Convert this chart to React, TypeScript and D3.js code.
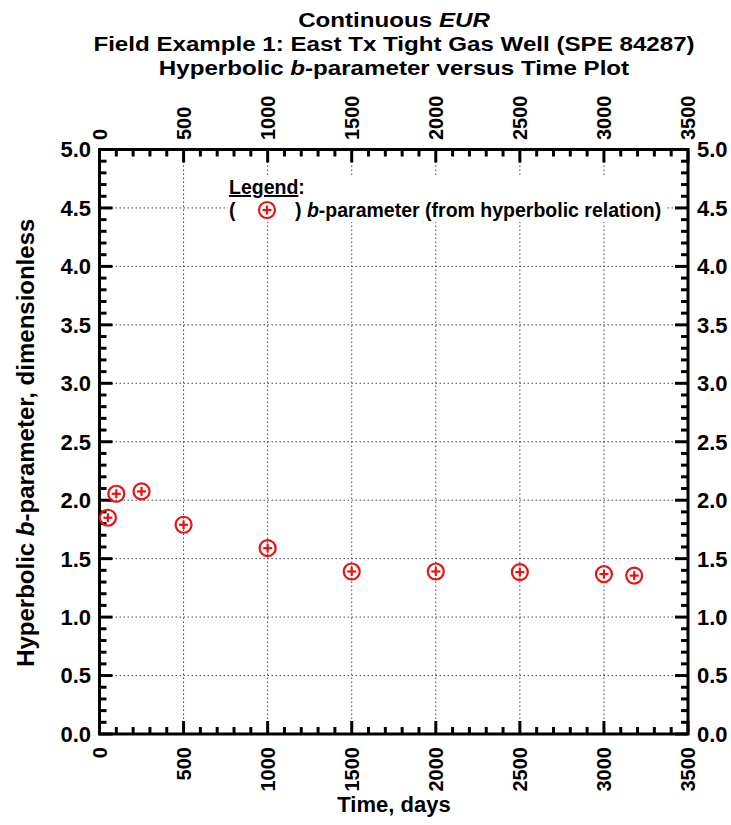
import React from "react";
import * as d3 from "d3";

const timeDays = [50, 100, 250, 500, 1000, 1500, 2000, 2500, 3000, 3180];
const bParam = [1.85, 2.055, 2.075, 1.79, 1.59, 1.39, 1.39, 1.385, 1.368, 1.355];
const xMajorTicks = [0, 500, 1000, 1500, 2000, 2500, 3000, 3500];
const yMajorTicks = [0, 0.5, 1.0, 1.5, 2.0, 2.5, 3.0, 3.5, 4.0, 4.5, 5.0];
const titleLines = ["Continuous", "Field Example 1: East Tx Tight Gas Well (SPE 84287)", "Hyperbolic"];

const W = 731, H = 825;
const L = 99.5, R = 688, T = 149.5, B = 734;
const FONT = "'Liberation Sans', Arial, sans-serif";

export default function App() {
  const x = d3.scaleLinear().domain([0, 3500]).range([L, R]);
  const y = d3.scaleLinear().domain([0, 5]).range([B, T]);
  const xMinor = d3.range(0, 3501, 100).filter((v) => v % 500 !== 0);
  const yMinor = d3.range(0, 51, 1).map((v) => v / 10).filter((v) => Math.round(v * 10) % 5 !== 0);
  const majorLen = 13, minorLen = 7;
  const grid = "#444";
  const red = "#ee1111";
  const tx = 394;
  const sx = 1.15;

  const marker = (cx: number, cy: number, key: any) => (
    <g key={key}>
      <circle cx={cx} cy={cy} r={8} fill="none" stroke={red} strokeWidth={2.2} />
      <line x1={cx - 4.5} x2={cx + 4.5} y1={cy} y2={cy} stroke={red} strokeWidth={2.2} />
      <line x1={cx} x2={cx} y1={cy - 4.5} y2={cy + 4.5} stroke={red} strokeWidth={2.2} />
    </g>
  );

  return (
    <svg width={W} height={H} style={{ position: "absolute", left: 0, top: 0, background: "#fff" }} fontFamily={FONT}>
      <rect x={0} y={0} width={W} height={H} fill="#fff" />
      {/* title */}
      <g fontWeight="bold" fontSize={21} textAnchor="middle" fill="#000">
        <text transform={`translate(${tx},27) scale(${sx},1)`}>
          {titleLines[0]} <tspan fontStyle="italic">EUR</tspan>
        </text>
        <text transform={`translate(${tx},51) scale(${sx},1)`}>{titleLines[1]}</text>
        <text transform={`translate(${tx},75) scale(${sx},1)`}>
          {titleLines[2]} <tspan fontStyle="italic">b</tspan>-parameter versus Time Plot
        </text>
      </g>
      {/* grid */}
      <g stroke={grid} strokeWidth={1} strokeDasharray="1.5,2.5">
        {xMajorTicks.slice(1, -1).map((v) => (
          <line key={"gx" + v} x1={x(v)} x2={x(v)} y1={T} y2={B} />
        ))}
        {yMajorTicks.slice(1, -1).map((v) => (
          <line key={"gy" + v} x1={L} x2={R} y1={y(v)} y2={y(v)} />
        ))}
      </g>
      {/* legend */}
      <rect x={228} y={176} width={437} height={46} fill="#fff" />
      <g fontWeight="bold" fontSize={19.5} fill="#000">
        <text x={229} y={194}>
          <tspan textDecoration="underline">Legend</tspan>:
        </text>
        <text x={229} y={216.5}>(</text>
        <text x={295} y={216.5}>
          ) <tspan fontStyle="italic">b</tspan>-parameter (from hyperbolic relation)
        </text>
      </g>
      {marker(267, 210, "leg")}
      {/* ticks */}
      <g stroke="#000" strokeWidth={3}>
        {xMajorTicks.map((v) => (
          <g key={"xt" + v}>
            <line x1={x(v)} x2={x(v)} y1={B} y2={B - majorLen} />
            <line x1={x(v)} x2={x(v)} y1={T} y2={T + majorLen} />
          </g>
        ))}
        {xMinor.map((v) => (
          <g key={"xm" + v}>
            <line x1={x(v)} x2={x(v)} y1={B} y2={B - minorLen} />
            <line x1={x(v)} x2={x(v)} y1={T} y2={T + minorLen} />
          </g>
        ))}
        {yMajorTicks.map((v) => (
          <g key={"yt" + v}>
            <line x1={L} x2={L + majorLen} y1={y(v)} y2={y(v)} />
            <line x1={R} x2={R - majorLen} y1={y(v)} y2={y(v)} />
          </g>
        ))}
        {yMinor.map((v) => (
          <g key={"ym" + v}>
            <line x1={L} x2={L + minorLen} y1={y(v)} y2={y(v)} />
            <line x1={R} x2={R - minorLen} y1={y(v)} y2={y(v)} />
          </g>
        ))}
      </g>
      <rect x={L} y={T} width={R - L} height={B - T} fill="none" stroke="#000" strokeWidth={3} />
      {/* tick labels */}
      <g fontWeight="bold" fontSize={22} fill="#000">
        {yMajorTicks.map((v) => (
          <text key={"yl" + v} x={91} y={y(v)} dy="0.36em" textAnchor="end">
            {v.toFixed(1)}
          </text>
        ))}
        {yMajorTicks.map((v) => (
          <text key={"yr" + v} x={697} y={y(v)} dy="0.36em" textAnchor="start">
            {v.toFixed(1)}
          </text>
        ))}
      </g>
      <g fontWeight="bold" fontSize={20} fill="#000">
        {xMajorTicks.map((v) => (
          <text key={"xb" + v} transform={`translate(${x(v)},747) rotate(-90)`} dy="0.36em" textAnchor="end">
            {v}
          </text>
        ))}
        {xMajorTicks.map((v) => (
          <text key={"xtp" + v} transform={`translate(${x(v)},140) rotate(-90)`} dy="0.36em" textAnchor="start">
            {v}
          </text>
        ))}
      </g>
      {/* axis titles */}
      <g fontWeight="bold" fill="#000" textAnchor="middle">
        <text x={394} y={812} fontSize={22}>Time, days</text>
        <text transform={`translate(34,${(T + B) / 2 + 1}) rotate(-90)`} fontSize={24}>
          Hyperbolic <tspan fontStyle="italic">b</tspan>-parameter, dimensionless
        </text>
      </g>
      {/* data */}
      {timeDays.map((t, i) => marker(x(t), y(bParam[i]), "p" + i))}
    </svg>
  );
}
